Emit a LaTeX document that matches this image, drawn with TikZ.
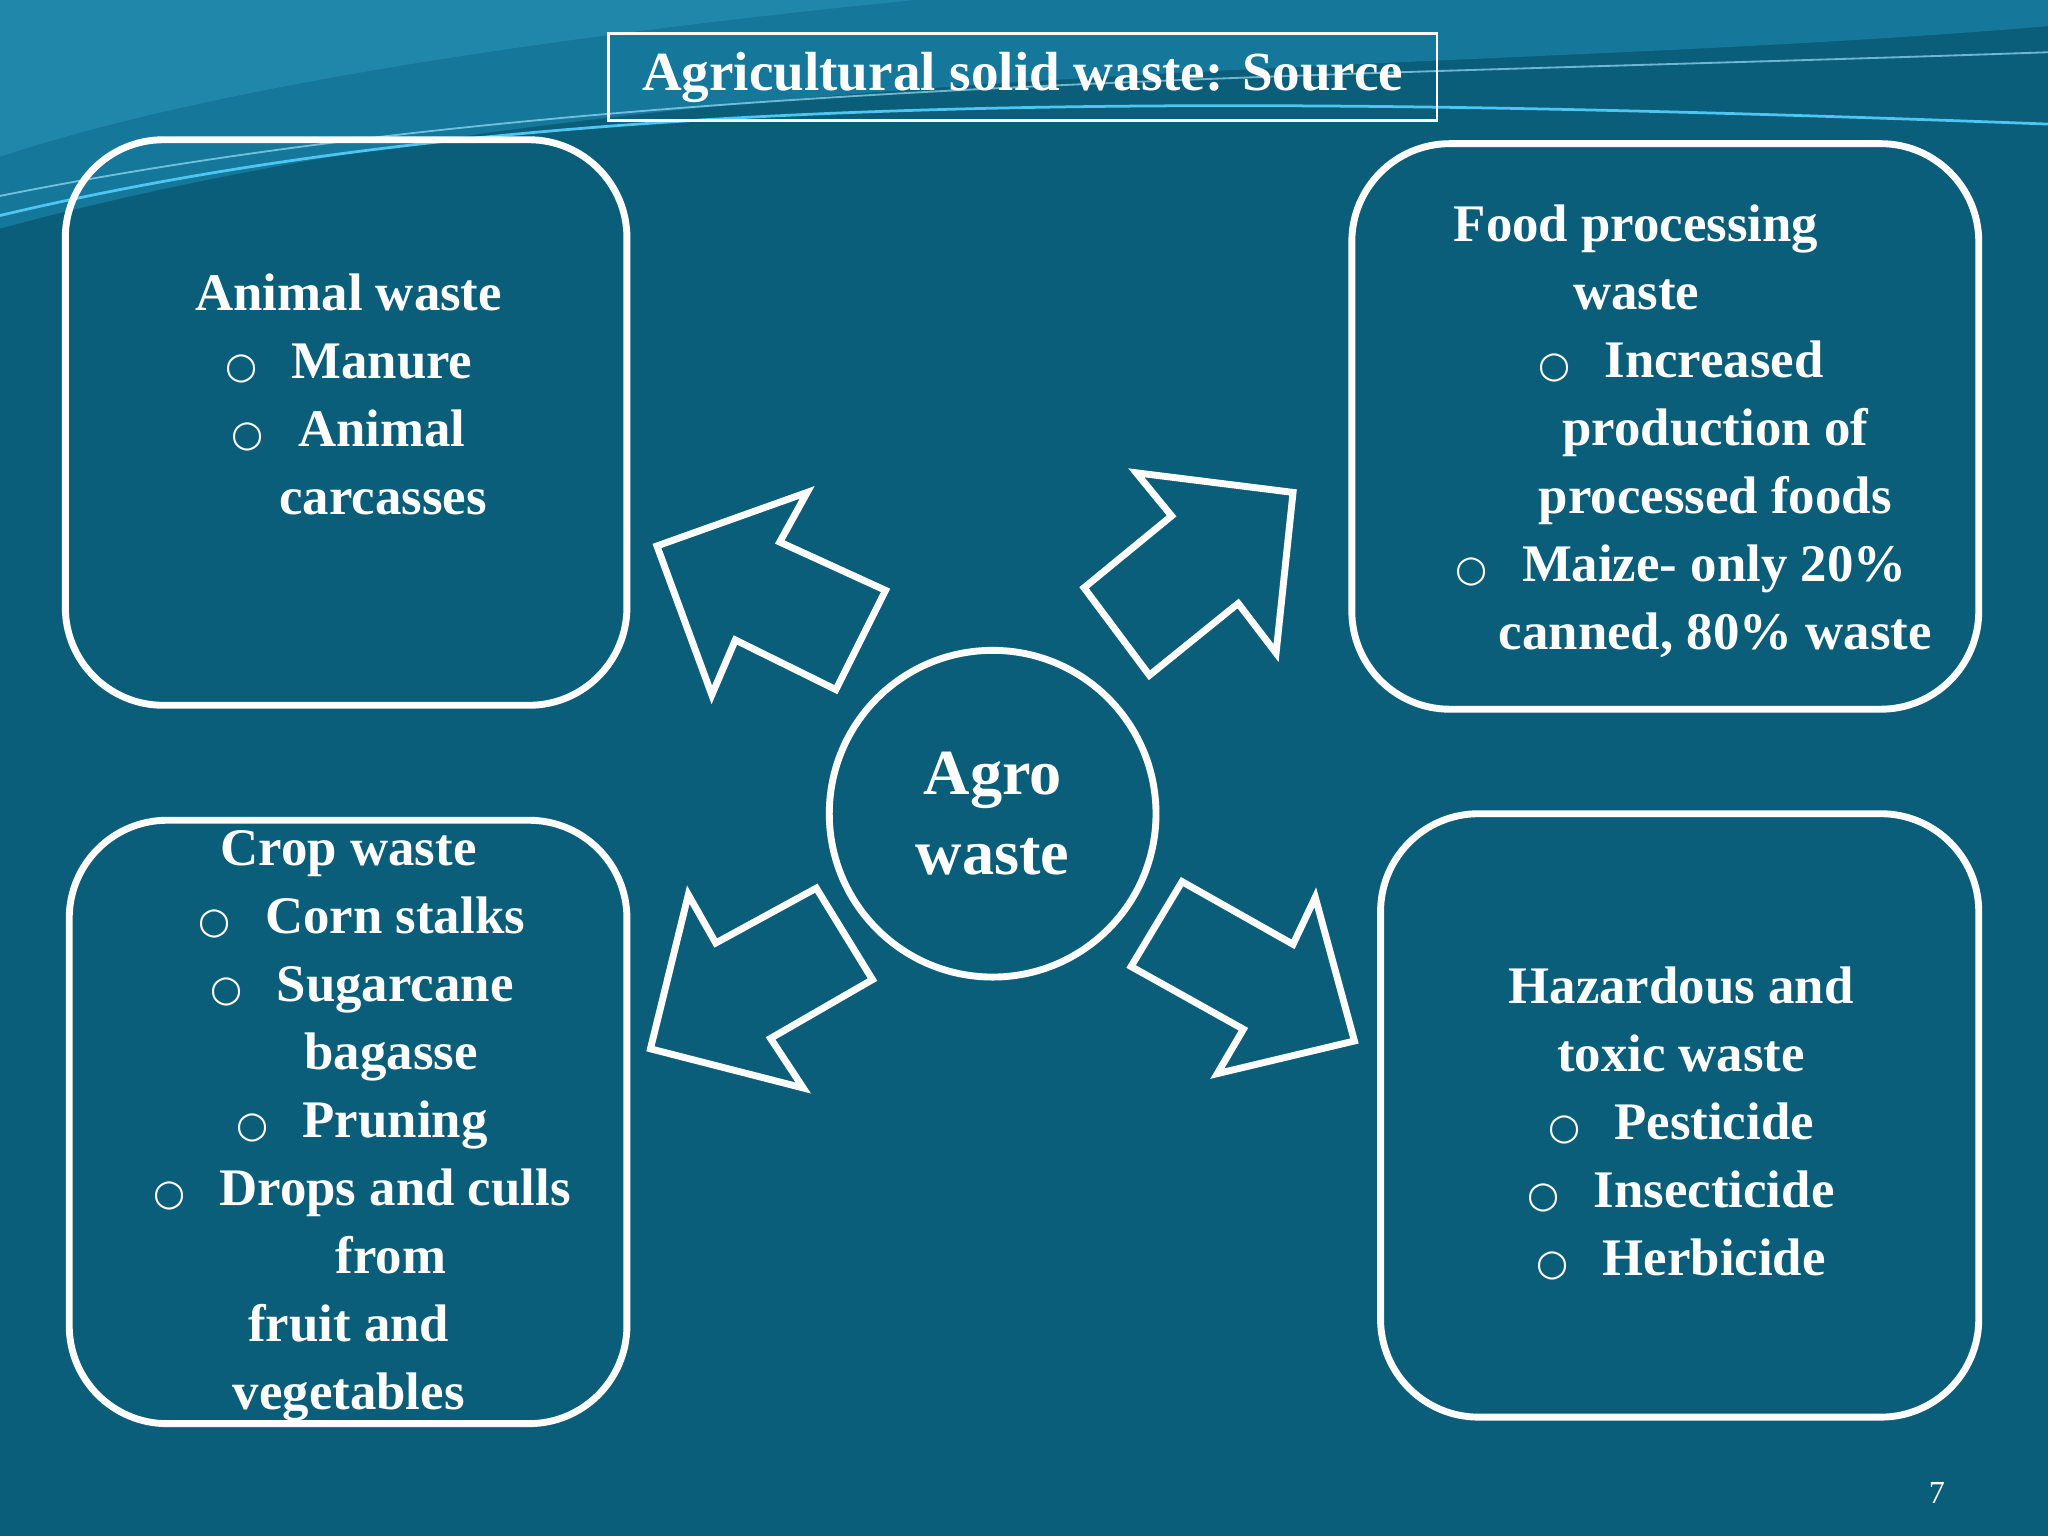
\documentclass[tikz,border=0pt]{standalone}
\usepackage{fontspec}
\setmainfont{Liberation Serif}
\newfontfamily\dv{DejaVu Sans}
\definecolor{bg}{HTML}{0B5E79}
\definecolor{wave}{HTML}{15779A}
\definecolor{wave2}{HTML}{2A93B5}
\newcommand{\bul}{{\dv\fontsize{8}{8}\selectfont ○}\hspace{0.65em}}
\begin{document}
\begin{tikzpicture}[x=0.01cm,y=-0.01cm,
  box/.style={draw=white,line width=1.5pt,rounded corners=0.75cm},
  arr/.style={draw=white,line width=1.5pt,line join=miter},
  txt/.style={text=white,font=\bfseries\fontsize{11.5}{14.8}\selectfont,align=center}]
\fill[bg] (0,0) rectangle (1568,1176);
\useasboundingbox (0,0) rectangle (1568,1176);
\fill[wave] (0,0) -- (1568,0) -- (1568,20) .. controls (1100,60) and (500,40) .. (0,175) -- cycle;
\fill[wave2,opacity=0.6] (0,0) -- (700,0) .. controls (400,30) and (150,70) .. (0,120) -- cycle;
\draw[cyan!70!white,line width=0.6pt] (0,165) .. controls (400,70) and (900,70) .. (1568,95);
\draw[cyan!40!white,line width=0.4pt,opacity=0.7] (0,150) .. controls (450,60) and (1000,60) .. (1568,40);
% title
\node[draw=white,line width=0.6pt,minimum width=6.34cm,minimum height=0.67cm,text=white,font=\bfseries\fontsize{12}{13}\selectfont] (title) at (783,59) {\raisebox{-0.3ex}{Agricultural solid waste: Source}};
% boxes
\draw[box] (50,107) rectangle (480,540);
\draw[box] (1035,110) rectangle (1515,543);
\draw[box] (53,628) rectangle (480,1090);
\draw[box] (1057,623) rectangle (1515,1085);
\node[draw=white,line width=1.5pt,circle,minimum size=2.5cm,text=white,align=center,font=\bfseries\fontsize{14}{17.5}\selectfont] (agro) at (760,623) {Agro\\waste};
% arrows
\draw[arr] (618,377)--(597,415)--(678,452)--(640,528)--(563,490)--(545,532)--(503,418)--cycle;
\draw[arr] (870,362)--(990,377)--(977,500)--(948,462)--(880,517)--(830,450)--(897,395)--cycle;
\draw[arr] (527,685)--(548,722)--(625,680)--(668,750)--(590,795)--(615,833)--(498,803)--cycle;
\draw[arr] (905,675)--(990,723)--(1007,687)--(1037,797)--(932,822)--(952,788)--(866,740)--cycle;
% texts
\node[txt] (tl) at (267,302) {Animal waste\\\bul Manure\\\bul Animal\\\hspace{1.3em}carcasses};
\node[txt] (tr) at (1287,330) {\hspace{-1.7em}Food processing\\\hspace{-1.7em}waste\\\bul Increased\\\hspace{1.3em}production of\\\hspace{1.3em}processed foods\\\bul Maize- only 20\%\\\hspace{1.3em}canned, 80\% waste};
\node[txt] (bl) at (267,862) {Crop waste\\\hspace{0.5em}\bul Corn stalks\\\hspace{0.5em}\bul Sugarcane\\\hspace{1.6em}bagasse\\\hspace{0.5em}\bul Pruning\\\hspace{0.5em}\bul Drops and culls\\\hspace{1.6em}from\\fruit and\\vegetables};
\node[txt] (br) at (1287,860) {Hazardous and\\toxic waste\\\bul Pesticide\\\bul Insecticide\\\bul Herbicide};
\node[text=white,font=\fontsize{7}{8}\selectfont] (num) at (1483,1143) {7};
\end{tikzpicture}
\end{document}
